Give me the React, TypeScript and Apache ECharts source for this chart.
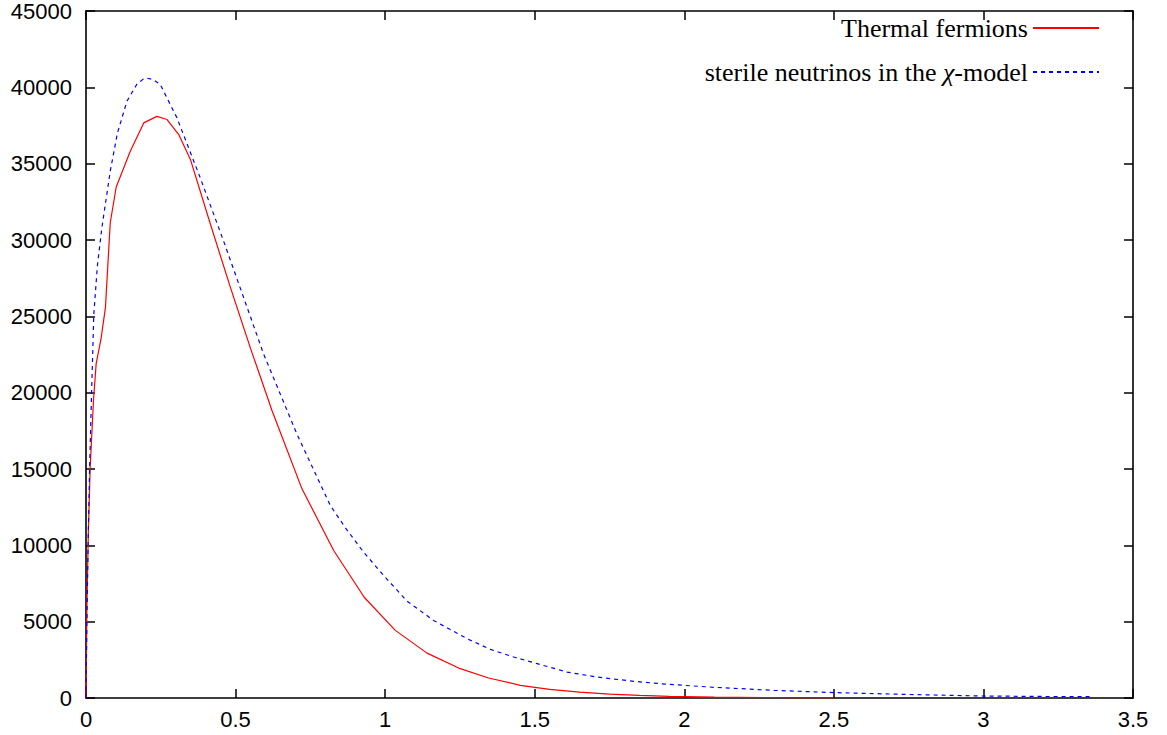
import React, { useEffect, useRef } from "react";
import * as echarts from "echarts";

const redX = [0, 0.003, 0.008, 0.014, 0.025, 0.034, 0.05, 0.065, 0.081, 0.101, 0.148, 0.193, 0.237, 0.271, 0.31, 0.349, 0.416, 0.483, 0.55, 0.622, 0.722, 0.828, 0.93, 1.034, 1.14, 1.246, 1.346, 1.452, 1.55, 1.65, 1.75, 1.85, 1.95, 2.1, 2.3, 2.5];
const redY = [0, 6000, 11000, 15100, 19500, 21900, 23500, 25570, 31130, 33470, 35810, 37670, 38100, 37890, 36910, 35280, 31030, 26880, 22900, 18820, 13700, 9660, 6600, 4430, 2940, 1960, 1310, 830, 560, 380, 250, 170, 110, 60, 25, 10];

const blueX = [0, 0.003, 0.007, 0.012, 0.018, 0.026, 0.038, 0.053, 0.081, 0.105, 0.137, 0.17, 0.19, 0.204, 0.225, 0.248, 0.304, 0.382, 0.46, 0.527, 0.594, 0.705, 0.817, 0.867, 0.928, 0.995, 1.073, 1.162, 1.274, 1.352, 1.43, 1.508, 1.608, 1.708, 1.831, 1.942, 2.1, 2.3, 2.5, 2.75, 3.0, 3.2, 3.36];
const blueY = [0, 5000, 10000, 15000, 19500, 25100, 28300, 30800, 34500, 37000, 39100, 40200, 40520, 40600, 40500, 40200, 38000, 34070, 29930, 26225, 22520, 17290, 12600, 11150, 9550, 8025, 6350, 5080, 3885, 3185, 2683, 2250, 1700, 1373, 1092, 900, 700, 500, 353, 230, 130, 100, 90];

const xTicks = [0, 0.5, 1, 1.5, 2, 2.5, 3, 3.5];
const yTicks = [0, 5000, 10000, 15000, 20000, 25000, 30000, 35000, 40000, 45000];

const seriesNames = ["Thermal fermions", "sterile neutrinos in the χ-model"];

export default function App() {
  const ref = useRef<HTMLDivElement>(null);
  useEffect(() => {
    if (!ref.current) return;
    const chart = echarts.init(ref.current, null, { renderer: "svg" });
    const tickFont = { fontFamily: "Liberation Sans", fontSize: 22, color: "#000" };
    const axisLine = { show: true, onZero: false, lineStyle: { color: "#000", width: 1.6 } };
    const tick = { show: true, inside: true, length: 9, lineStyle: { color: "#000", width: 1.5 } };
    const xMin = xTicks[0];
    const xMax = xTicks[xTicks.length - 1];
    const xInt = xTicks[1] - xTicks[0];
    const yMin = yTicks[0];
    const yMax = yTicks[yTicks.length - 1];
    const yInt = yTicks[1] - yTicks[0];
    chart.setOption({
      animation: false,
      backgroundColor: "#fff",
      grid: { left: 86, right: 34, top: 10, bottom: 37, containLabel: false },
      legend: {
        show: true,
        orient: "vertical",
        right: 62,
        top: 10,
        align: "right",
        itemWidth: 66,
        itemHeight: 10,
        itemGap: 18,
        data: seriesNames,
        itemStyle: { opacity: 0 },
        formatter: (name: string) =>
          name.indexOf("χ") >= 0 ? "sterile neutrinos in the {chi|χ}-model" : name,
        textStyle: {
          fontFamily: "Liberation Serif",
          fontSize: 26,
          color: "#000",
          rich: {
            chi: { fontFamily: "Liberation Serif", fontStyle: "italic", fontSize: 26, color: "#000" },
          },
        },
      },
      xAxis: [
        {
          type: "value",
          min: xMin,
          max: xMax,
          interval: xInt,
          axisLine,
          axisTick: tick,
          splitLine: { show: false },
          axisLabel: { ...tickFont, margin: 10, formatter: (v: number) => String(v) },
        },
        {
          type: "value",
          position: "top",
          min: xMin,
          max: xMax,
          interval: xInt,
          axisLine,
          axisTick: tick,
          splitLine: { show: false },
          axisLabel: { show: false },
        },
      ],
      yAxis: [
        {
          type: "value",
          min: yMin,
          max: yMax,
          interval: yInt,
          axisLine,
          axisTick: tick,
          splitLine: { show: false },
          axisLabel: { ...tickFont, margin: 14, formatter: (v: number) => String(v) },
        },
        {
          type: "value",
          position: "right",
          min: yMin,
          max: yMax,
          interval: yInt,
          axisLine,
          axisTick: tick,
          splitLine: { show: false },
          axisLabel: { show: false },
        },
      ],
      series: [
        {
          name: seriesNames[0],
          type: "line",
          symbol: "none",
          data: redX.map((x, i) => [x, redY[i]]),
          lineStyle: { color: "#ff0000", width: 1.2 },
          itemStyle: { color: "#ff0000" },
        },
        {
          name: seriesNames[1],
          type: "line",
          symbol: "none",
          data: blueX.map((x, i) => [x, blueY[i]]),
          lineStyle: { color: "#0000ff", width: 1.2, type: [4, 4] },
          itemStyle: { color: "#0000ff" },
        },
      ],
    });
    return () => chart.dispose();
  }, []);
  return (
    <div
      ref={ref}
      style={{ position: "fixed", left: 0, top: 0, width: 1167, height: 735, background: "#fff" }}
    />
  );
}
